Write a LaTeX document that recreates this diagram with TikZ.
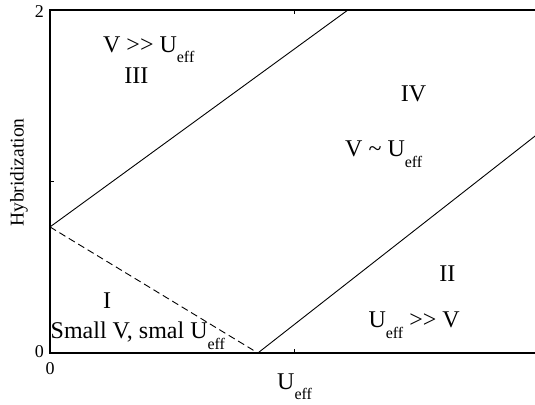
\documentclass[tikz,border=0pt]{standalone}
\usepackage{fontspec}
\setmainfont{Liberation Serif}
\newcommand{\eff}{\raisebox{-0.42em}{\fontsize{16}{17}\selectfont eff}}
\begin{document}
\begin{tikzpicture}[x=244pt,y=171.5pt,
	lbl/.style={font=\fontsize{24}{28}\selectfont,inner sep=0pt},
	tck/.style={font=\fontsize{18}{21}\selectfont,inner sep=0pt}]
	\useasboundingbox (-50pt,-51pt) rectangle (485pt,353pt);
	% frame and ticks
	\draw[line width=1.3pt] (1.988,2) -- (0,2) -- (0,0) -- (1.988,0);
	\draw (1,0) -- ++(0,4pt);
	\draw (1,2) -- ++(0,-4pt);
	\draw (0,1) -- ++(4pt,0);
	\node[tck,anchor=east,xshift=-6pt,yshift=-1.5pt] (ytop) at (0,2) {2};
	\node[tck,anchor=east,xshift=-6pt,yshift=1pt] (yzero) at (0,0) {0};
	\node[tck,anchor=north,yshift=-9pt] (xzero) at (0,0) {0};
	\node[lbl,font=\fontsize{19.5}{23}\selectfont,rotate=90] (ylab) at (-31pt,1.052) {Hybridization};
	\node[lbl,anchor=base west] (xlab) at (227pt,-36pt) {U\eff};
	% region borders
	\coordinate (p) at (0,0.735);
	\coordinate (q) at (0.852,0);
	\coordinate (r) at (1.221,2);
	\coordinate (s) at (1.988,1.265);
	\draw[line width=0.9pt] (p) -- (r);
	\draw[line width=0.9pt,dash pattern=on 7pt off 4pt] (p) -- (q);
	\draw[line width=0.9pt] (q) -- (s);
	% regions
	\node[lbl,anchor=base west] (vggu) at (0.217,1.755) {V >{}> U\eff};
	\node[lbl,anchor=base] (three) at (0.354,1.569) {III};
	\node[lbl,anchor=base] (four) at (1.49,1.464) {IV};
	\node[lbl,anchor=base west] (vsimu) at (1.209,1.143) {V \char`~{} U\eff};
	\node[lbl,anchor=base] (two) at (1.629,0.414) {II};
	\node[lbl,anchor=base east] (uggv) at (1.680,0.146) {U\eff{} >{}> V};
	\node[lbl,anchor=base] (one) at (0.234,0.257) {I};
	\node[lbl,anchor=base west] (small) at (0.002,0.082) {Small V, smal U\eff};
\end{tikzpicture}
\end{document}
